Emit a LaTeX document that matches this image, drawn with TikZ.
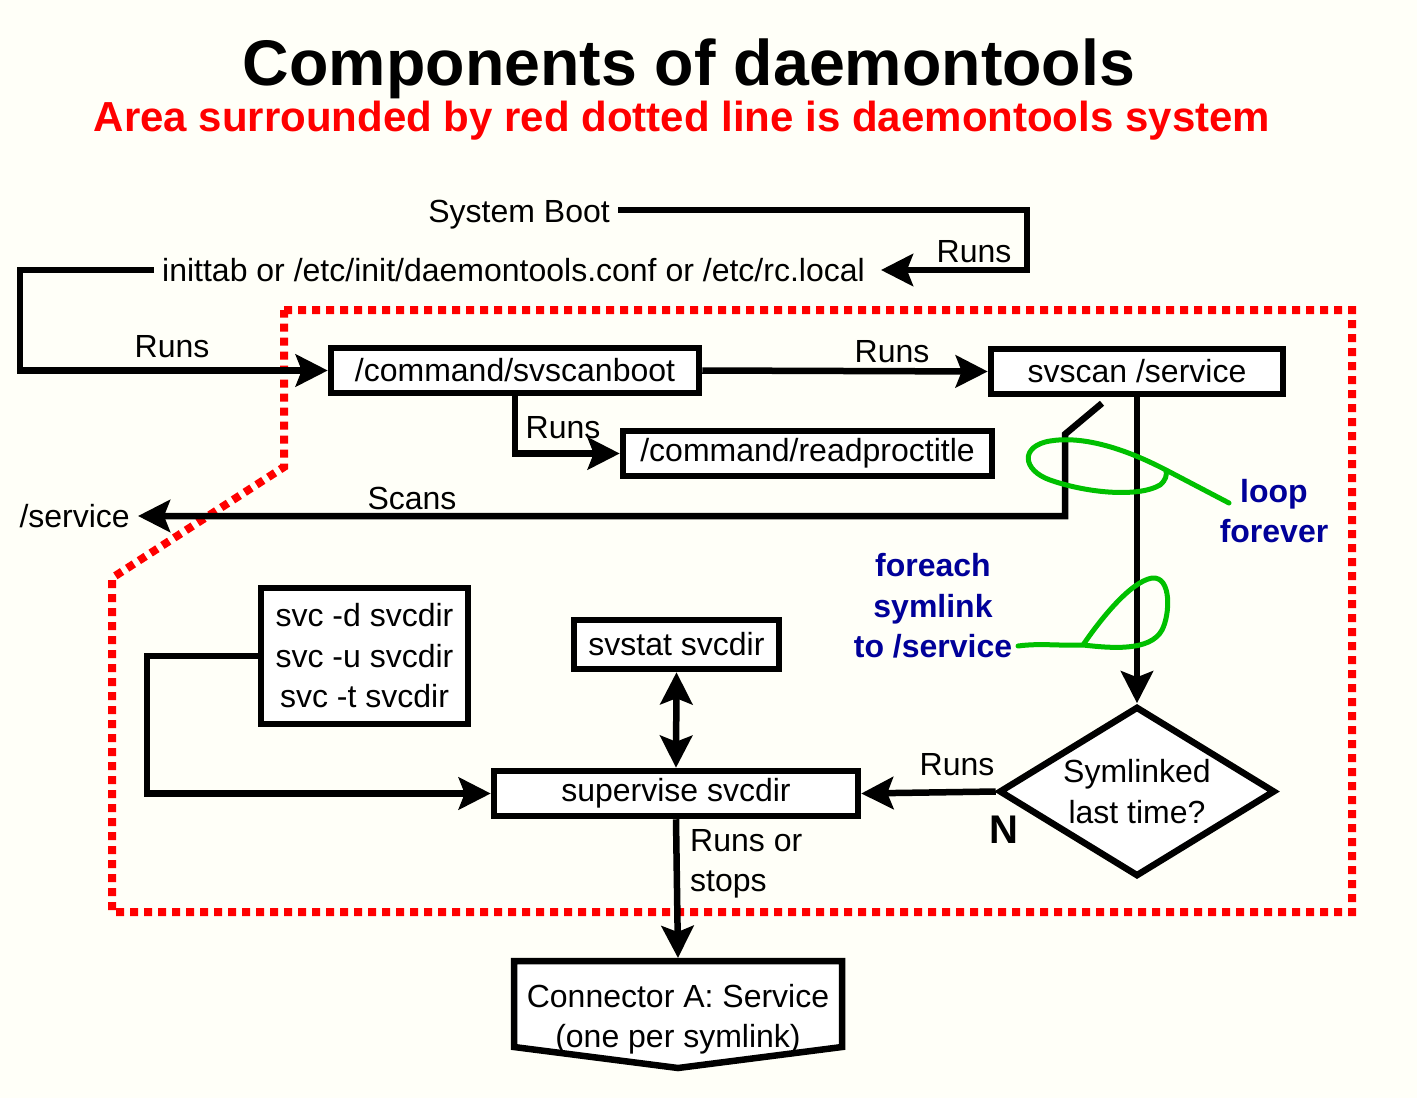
\documentclass[tikz,border=0pt]{standalone}
\usepackage{fontspec}
\setmainfont{Liberation Sans}
\usetikzlibrary{arrows.meta,shapes.geometric}

\definecolor{paper}{RGB}{255,255,248}
\definecolor{loopgreen}{RGB}{0,192,0}
\definecolor{notenavy}{RGB}{0,0,153}

\newcommand{\bodyfont}{\fontsize{32}{40.5}\selectfont}

\begin{document}
\begin{tikzpicture}[x=1pt, y=-1pt, >={Stealth[length=32pt,width=32pt,inset=6pt]},
	every node/.style={font=\bodyfont, align=center},
	box/.style={draw=black, line width=6.5pt, fill=white, inner sep=0pt, minimum height=45pt},
	txt/.style={inner sep=8pt},
	lbl/.style={inner sep=0pt},
	flow/.style={line width=6.5pt},
	note/.style={inner sep=0pt, text=notenavy, font=\bodyfont\bfseries},
	scribble/.style={draw=loopgreen, line width=5pt, line cap=round, line join=round}]

	\useasboundingbox (0,0) rectangle (1417,1098);
	\fill[paper] (0,0) rectangle (1417,1098);

	% daemontools area
	\draw[red, line width=8pt, dash pattern=on 8pt off 6pt] (284,310) -- (1352,310) -- (1352,912) -- (112,912) -- (112,578) -- (284,467) -- cycle;

	\node[font=\fontsize{64.5}{70}\selectfont\bfseries, anchor=base] (title) at (689,85) {Components of daemontools};
	\node[font=\fontsize{42}{48}\selectfont\bfseries, text=red, anchor=base] (subtitle) at (682,131) {Area surrounded by red dotted line is daemontools system};

	\node[txt, anchor=east] (boot) at (618,215) {System Boot};
	\node[txt, anchor=west] (init) at (154,270) {inittab or /etc/init/daemontools.conf or /etc/rc.local};
	\node[txt, anchor=east] (service) at (138,516) {/service};

	\node[box, minimum width=368pt] (scanboot) at (515,370.5) {/command/svscanboot};
	\node[box, minimum width=292pt] (svscan) at (1137,371.5) {svscan /service};
	\node[box, minimum width=369pt] (readproc) at (807.5,453.5) {/command/readproctitle};
	\node[box, minimum width=205pt, minimum height=49pt] (svstat) at (676.5,644.5) {svstat svcdir};
	\node[box, minimum width=364pt] (supervise) at (676,793.5) {supervise svcdir};
	\node[box, minimum width=207pt, minimum height=136pt] (svc) at (364.5,656) {svc -d svcdir\\svc -u svcdir\\svc -t svcdir};
	\node[box, shape=diamond, aspect=1.62, minimum width=276pt, minimum height=170pt] (symlinked) at (1137,791.5) {Symlinked\\last time?};

	% off-page connector
	\draw[flow, fill=white] (514,961) -- (842,961) -- (842,1047) -- (678,1068) -- (514,1047) -- cycle;
	\node[lbl] (connA) at (678,1019) {Connector A: Service\\(one per symlink)};
	\coordinate (connAtop) at (678,958);

	\node[lbl] (runsboot) at (974,252) {Runs};
	\node[lbl] (runsinit) at (172,347) {Runs};
	\node[lbl] (runsscan) at (892,352) {Runs};
	\node[lbl] (runsproc) at (563,428) {Runs};
	\node[lbl] (scans) at (412,498) {Scans};
	\node[lbl] (runssup) at (957,765) {Runs};
	\node[lbl, font=\fontsize{40}{44}\selectfont\bfseries] (no) at (1004,830) {N};
	\node[lbl, anchor=west, align=left] (runsstops) at (690,864) {Runs or\\stops};

	\draw[->, flow] ([yshift=5pt]boot.east) -- ++(409,0) |- ([xshift=8pt]init.east);
	\draw[->, flow] (init.west) -- ++(-134,0) |- (scanboot.west);
	\draw[->, flow] (scanboot.east) -- (svscan.west);
	\draw[->, flow] (scanboot.south) |- (readproc.west);
	\draw[->, flow] ([xshift=-35pt,yshift=-6pt]svscan.south) -- ++(-37,31) |- (service.east);
	\draw[->, flow] (svscan.south) -- (symlinked.north);
	\draw[->, flow] (symlinked.west) -- (supervise.east);
	\draw[<->, flow] (svstat.south) -- (supervise.north);
	\draw[->, flow] (svc.west) -- ++(-111,0) |- (supervise.west);
	\draw[->, flow] (supervise.south) -- (connAtop);

	% loops
	\draw[scribble] (1229,503) -- (1166,470) .. controls (1120,446) and (1080,436) .. (1050,441) .. controls (1020,446) and (1022,470) .. (1050,480) .. controls (1090,494) and (1140,497) .. (1160,485) .. controls (1166,480) and (1167,475) .. (1166,470);
	\draw[scribble] (1018,646) .. controls (1040,643) and (1060,646) .. (1083,645) .. controls (1100,620) and (1130,582) .. (1152,578) .. controls (1172,576) and (1170,615) .. (1162,630) .. controls (1150,652) and (1110,648) .. (1083,645);

	\node[note] (loopnote) at (1274,511) {loop\\forever};
	\node[note] (eachnote) at (933,606) {foreach\\symlink\\to /service};

\end{tikzpicture}
\end{document}
